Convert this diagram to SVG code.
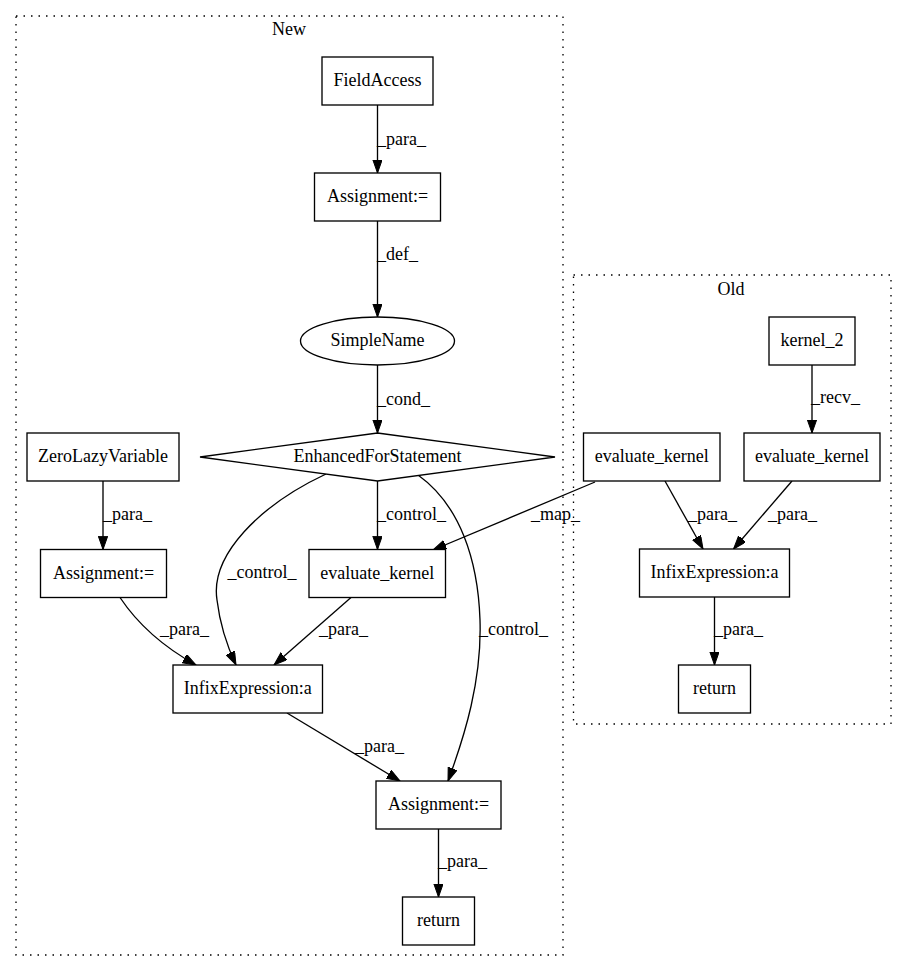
<svg xmlns="http://www.w3.org/2000/svg" width="907" height="972" viewBox="0 0 907 972">
<style>
text{font-family:"Liberation Serif","Times New Roman",serif;font-size:18px;fill:#000}
.n{fill:#fff;stroke:#000;stroke-width:1.33}
.c{fill:none;stroke:#000;stroke-width:1.33;stroke-dasharray:1.5,6}
.e{fill:none;stroke:#000;stroke-width:1.33;marker-end:url(#ah)}
.m{text-anchor:middle}
</style>
<defs>
<marker id="ah" markerUnits="userSpaceOnUse" markerWidth="14" markerHeight="10" refX="13.3" refY="4.7" orient="auto">
<path d="M0,0 L13.3,4.7 L0,9.4 z" fill="#000" stroke="#000" stroke-width="1"/>
</marker>
</defs>
<rect width="907" height="972" fill="#fff"/>
<g id="cluster_new">
<rect class="c" x="16" y="16" width="547" height="939"/>
<text class="m" x="289" y="35">New</text>
</g>
<g id="cluster_old">
<rect class="c" x="573.5" y="275" width="317.5" height="449"/>
<text class="m" x="731" y="295">Old</text>
</g>
<g id="edges">
<path class="e" d="M377.5,105 L377.5,173"/>
<text x="377" y="145">_para_</text>
<path class="e" d="M377.5,221 L377.5,317"/>
<text x="377" y="260">_def_</text>
<path class="e" d="M377.5,365 L377.5,433"/>
<text x="377" y="405">_cond_</text>
<path class="e" d="M377.5,481 L377.5,549.5"/>
<text x="377" y="520">_control_</text>
<path class="e" d="M103,481 L103,549.5"/>
<text x="103" y="520">_para_</text>
<path class="e" d="M326,474 C260,505 210,555 217,600 C220,625 228,648 236,665"/>
<text x="227.5" y="578">_control_</text>
<path class="e" d="M418,475 C460,505 478,560 480,620 C482,680 465,735 448,781"/>
<text x="479" y="635">_control_</text>
<path class="e" d="M120,597.5 C135,620 160,645 196,665"/>
<text x="160" y="635">_para_</text>
<path class="e" d="M351,597.5 L274,665"/>
<text x="319" y="635">_para_</text>
<path class="e" d="M287,713 L400,781"/>
<text x="355" y="752">_para_</text>
<path class="e" d="M438.5,829 L438.5,897"/>
<text x="438" y="867">_para_</text>
<path class="e" d="M595,482 L433,550"/>
<text x="531" y="520">_map_</text>
<path class="e" d="M812,365 L812,433"/>
<text x="811" y="403">_recv_</text>
<path class="e" d="M665,481 L703,549"/>
<text x="688" y="520">_para_</text>
<path class="e" d="M792,481 L733.5,549"/>
<text x="768" y="520">_para_</text>
<path class="e" d="M714.5,597 L714.5,665"/>
<text x="714" y="635">_para_</text>
</g>
<g id="n_fieldaccess"><rect class="n" x="322" y="57" width="111" height="48"/><text class="m" x="377.5" y="86">FieldAccess</text></g>
<g id="n_assign1"><rect class="n" x="314.5" y="173" width="126" height="48"/><text class="m" x="377.5" y="202">Assignment:=</text></g>
<g id="n_simplename"><ellipse class="n" cx="377.5" cy="341" rx="77" ry="24"/><text class="m" x="377.5" y="346">SimpleName</text></g>
<g id="n_efs"><polygon class="n" points="377.5,433 555,457 377.5,481 200,457"/><text class="m" x="377.5" y="462">EnhancedForStatement</text></g>
<g id="n_zlv"><rect class="n" x="27" y="433" width="152" height="48"/><text class="m" x="103" y="462">ZeroLazyVariable</text></g>
<g id="n_assign2"><rect class="n" x="40.5" y="549.5" width="126" height="48"/><text class="m" x="103.5" y="578.5">Assignment:=</text></g>
<g id="n_eval_new"><rect class="n" x="309" y="549.5" width="136.5" height="48"/><text class="m" x="377.2" y="578.5">evaluate_kernel</text></g>
<g id="n_infix_new"><rect class="n" x="173" y="665" width="149.5" height="48"/><text class="m" x="247.8" y="694">InfixExpression:a</text></g>
<g id="n_assign3"><rect class="n" x="376" y="781" width="125" height="48"/><text class="m" x="438.5" y="810">Assignment:=</text></g>
<g id="n_return_new"><rect class="n" x="402.5" y="897" width="72" height="48"/><text class="m" x="438.5" y="926">return</text></g>
<g id="n_kernel2"><rect class="n" x="769" y="317" width="86" height="48"/><text class="m" x="812" y="346">kernel_2</text></g>
<g id="n_eval_old_r"><rect class="n" x="744" y="433" width="136" height="48"/><text class="m" x="812" y="462">evaluate_kernel</text></g>
<g id="n_eval_old_l"><rect class="n" x="583.5" y="433" width="136.5" height="48"/><text class="m" x="651.7" y="462">evaluate_kernel</text></g>
<g id="n_infix_old"><rect class="n" x="639.5" y="549" width="150" height="48"/><text class="m" x="714.5" y="578">InfixExpression:a</text></g>
<g id="n_return_old"><rect class="n" x="678.5" y="665" width="72" height="48"/><text class="m" x="714.5" y="694">return</text></g>
</svg>
